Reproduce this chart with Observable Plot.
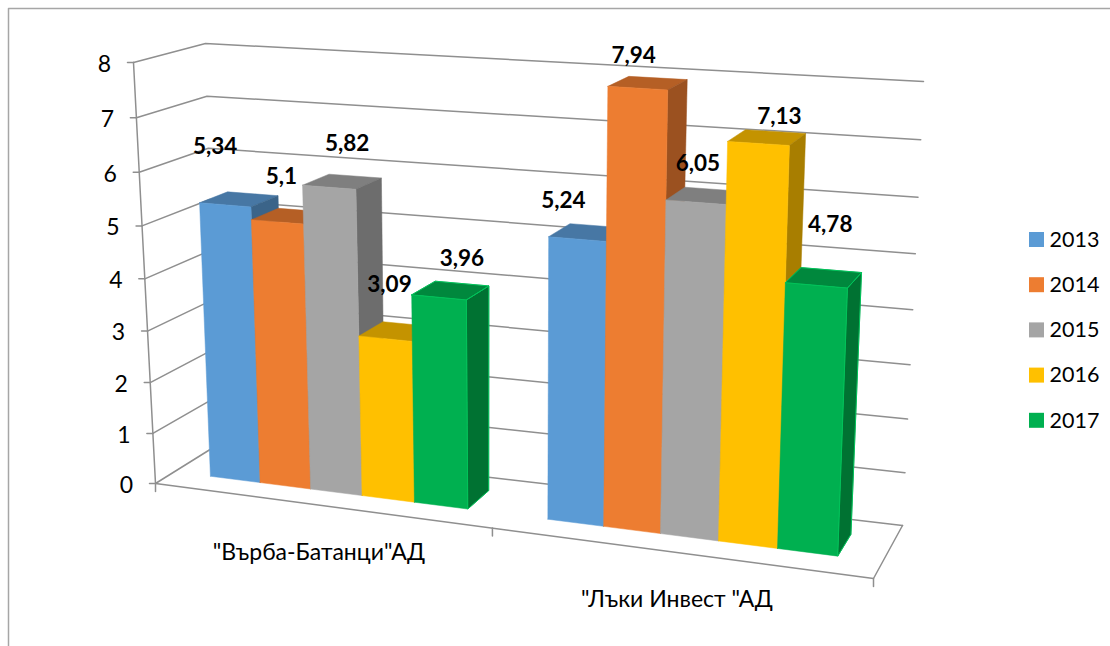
<!DOCTYPE html>
<html><head><meta charset="utf-8">
<script src="https://cdn.jsdelivr.net/npm/d3@7"></script>
<script src="https://cdn.jsdelivr.net/npm/@observablehq/plot@0.6"></script>
<style>html,body{margin:0;background:#fff}svg{display:block}</style>
</head><body><div id="chart"></div>
<script>
const categories = ['"Върба-Батанци"АД', '"Лъки Инвест "АД'];
const years = ["2013", "2014", "2015", "2016", "2017"];
const values2013 = [5.34, 5.24];
const values2014 = [5.1, 7.94];
const values2015 = [5.82, 6.05];
const values2016 = [3.09, 7.13];
const values2017 = [3.96, 4.78];
const yTicks = [0, 1, 2, 3, 4, 5, 6, 7, 8];
const frontColors = ["#5B9BD5", "#ED7D31", "#A5A5A5", "#FFC000", "#00B050"];
const topColors = ["#4777A4", "#B55F25", "#7F7F7F", "#C49300", "#00883D"];
const sideColors = ["#3B6489", "#9B5120", "#6D6D6D", "#A87E00", "#007232"];
const series = [values2013, values2014, values2015, values2016, values2017];

// Camera: the floor of the 3D box at value 0 and value 8, corners FL, FR, BR, BL
const floor0 = [[155,483],[873,578],[902,525],[216,445]];
const floor8 = [[133,62],[891,108],[923,81],[205,43]];
function homography(q){
  const [[x0,y0],[x1,y1],[x2,y2],[x3,y3]] = q;
  const dx1=x1-x2,dx2=x3-x2,sx=x0-x1+x2-x3,dy1=y1-y2,dy2=y3-y2,sy=y0-y1+y2-y3;
  const den=dx1*dy2-dx2*dy1, g=(sx*dy2-dx2*sy)/den, h=(dx1*sy-sx*dy1)/den;
  const a=x1-x0+g*x1,b=x3-x0+h*x3,d=y1-y0+g*y1,e=y3-y0+h*y3;
  return (u,w)=>{const k=g*u+h*w+1;return [(a*u+b*w+x0)/k,(d*u+e*w+y0)/k];};
}
const H0=homography(floor0), H8=homography(floor8);
const heightT=v=>{const s=v/8;return s/(s+(1-s)*1.057);};
const warpU=u=>u*1.105/(1+0.105*u);
function P(u0,w,v){
  const a=H0(warpU(u0),w),aL=H0(0,w),aR=H0(1,w),bL=H8(0,w),bR=H8(1,w);
  const s=(a[0]-aL[0])/(aR[0]-aL[0]), b=[bL[0]+(bR[0]-bL[0])*s,bL[1]+(bR[1]-bL[1])*s], t=heightT(v);
  return [a[0]+(b[0]-a[0])*t,a[1]+(b[1]-a[1])*t];
}

// Bar layout in floor coordinates
const barW=0.0773, gapU=0.0568, d0=0.3, d1=0.72;
const uOf=(g,i)=>g*0.5+gapU+i*barW;

const faces=[], rims=[];
function face(id,key,pts,out){const c=pts.concat([pts[0]]).map(p=>({id,key,x:p[0],y:p[1]}));out.push(...c);}
const labels=[];
const nudge=[[-10,-58],[-14,-38],[4,-45],[-4,-32],[18,-43],[2,-38],[4,-54],[21,-27],[23,-39],[14,-61]];
categories.forEach((c,g)=>{
  years.forEach((yr,i)=>{
    const v=series[i][g],u1=uOf(g,i),u2=u1+barW;
    const top=[P(u1,d0,v),P(u2,d0,v),P(u2,d1,v),P(u1,d1,v)];
    const side=[P(u2,d0,v),P(u2,d1,v),P(u2,d1,0),P(u2,d0,0)];
    face(`${g}-${i}-top`,yr+" top",top,faces);
    face(`${g}-${i}-side`,yr+" side",side,faces);
    face(`${g}-${i}-front`,yr,[P(u1,d0,0),P(u2,d0,0),P(u2,d0,v),P(u1,d0,v)],faces);
    if(i===4){face(`${g}-top`,yr,top,rims);face(`${g}-side`,yr,side,rims);}
    const a=P((u1+u2)/2,d0,v),n=nudge[i*2+g];
    labels.push({text:String(v).replace(".",","),x:a[0]+n[0],y:a[1]+n[1]});
  });
});

const gridLines=yTicks.flatMap(t=>[P(0,0,t),P(0,1,t),P(1,1,t)].map(p=>({t,x:p[0],y:p[1]})));
const edges=[
  [P(0,0,8),P(0,0,0),P(1,0,0),P(1,1,0)],
  ...yTicks.map(t=>{const p=P(0,0,t);return [p,[p[0]-6,p[1]]];}),
  ...[0,0.5,1].map(u=>{const p=P(u,0,0);return [p,[p[0],p[1]+8]];})
].flatMap((l,k)=>l.map(p=>({k,x:p[0],y:p[1]})));
const axisLabels=yTicks.map(t=>{const p=P(0,0,t);return {t,x:p[0]-29,y:p[1]+2};});
const catLabels=categories.map((c,g)=>{const p=P(g*0.5+0.25,0,0);return {c,x:p[0],y:p[1]+47};});
const frame=[{x:8,y:646},{x:8,y:8},{x:1110,y:8}];

const font="Lato, Carlito, 'Open Sans', sans-serif";
const legendTop=232, legendStep=45.2;
const chart=Plot.plot({
  width:1110,height:646,margin:0,
  x:{domain:[0,1110],range:[0,1110],axis:null},
  y:{domain:[0,646],range:[0,646],axis:null},
  color:{domain:years.flatMap(y=>[y,y+" top",y+" side"]),
         range:frontColors.flatMap((c,i)=>[c,topColors[i],sideColors[i]])},
  style:{background:"#fff",fontFamily:font},
  marks:[
    Plot.line(frame,{x:"x",y:"y",stroke:"#a6a6a6",strokeWidth:1.5}),
    Plot.line(gridLines,{x:"x",y:"y",z:"t",stroke:"#8f8f8f",strokeWidth:1.5}),
    Plot.line(edges,{x:"x",y:"y",z:"k",stroke:"#8f8f8f",strokeWidth:1.5}),
    Plot.line(faces,{x:"x",y:"y",z:"id",fill:"key",stroke:"key",strokeWidth:0.5}),
    Plot.line(rims,{x:"x",y:"y",z:"id",stroke:"#00C45A",strokeWidth:1}),
    Plot.text(axisLabels,{x:"x",y:"y",text:d=>String(d.t),fontSize:23,textAnchor:"middle",fill:"#000"}),
    Plot.text(catLabels,{x:"x",y:"y",text:"c",fontSize:23,textAnchor:"middle",fill:"#000"}),
    Plot.text(labels,{x:"x",y:"y",text:"text",fontSize:22.5,fontWeight:700,textAnchor:"middle",fill:"#000"}),
    Plot.rect(years,{x1:()=>1029,x2:()=>1044,y1:(d,i)=>legendTop+i*legendStep,y2:(d,i)=>legendTop+i*legendStep+15,fill:d=>d}),
    Plot.text(years,{x:()=>1049,y:(d,i)=>legendTop+7.5+i*legendStep,text:d=>d,fontSize:21.5,textAnchor:"start",fill:"#000"})
  ]
});
document.getElementById("chart").append(chart);
</script></body></html>
